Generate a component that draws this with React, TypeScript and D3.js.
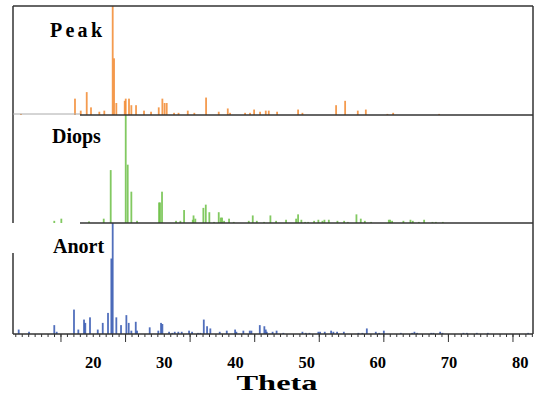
import React from 'react';
import * as d3 from 'd3';

// peak positions (theta) and relative intensities (% of strongest line)
const peakTheta = [9.85, 17.44, 18.25, 19.09, 19.69, 20.86, 21.56, 22.74, 22.93, 23.25, 24.43, 24.57, 25.03, 25.36, 26.02, 27.14, 28.13, 29.21, 29.72, 30.03, 30.33, 31.36, 31.99, 33.29, 34.21, 35.86, 37.64, 38.91, 39.23, 41.34, 42.04, 42.61, 43.45, 44.25, 44.67, 45.84, 48.79, 49.4, 54.13, 55.4, 57.18, 58.31, 61.34, 62.15, 68.61];
const peakInt = [1, 15, 4, 21, 7, 3, 4, 100, 52, 11, 13, 15, 15, 9, 9, 4, 3, 7, 15, 11, 11, 2, 2, 4, 2, 16, 3, 6, 2, 2, 2, 5, 3, 4, 4, 3, 5, 2, 9, 13, 4, 5, 1, 2, 1];

const diopsTheta = [14.53, 15.52, 19.41, 21.48, 22.46, 24.57, 24.85, 25.36, 26.16, 29.25, 29.39, 29.67, 31.64, 32.25, 32.77, 33.99, 34.1, 34.35, 35.48, 35.82, 36.32, 36.98, 37.64, 37.93, 38.11, 38.39, 39.09, 39.75, 41.86, 42.42, 42.99, 44.01, 44.9, 45.7, 47.1, 48.51, 48.79, 49.25, 49.78, 50.2, 51.04, 51.64, 52.21, 52.49, 53.11, 54.32, 55.26, 55.78, 56.99, 57.6, 58.17, 59.05, 61.54, 61.72, 62.0, 63.59, 64.58, 64.91, 65.76, 66.5, 67.67, 68.15, 69.13];
const diopsInt = [2, 4, 1.5, 4, 49, 100, 54, 29, 2, 19, 19, 29, 2, 2, 12, 3, 7, 4, 14, 17, 10, 1, 10, 5, 5, 2, 4, 1, 2, 7, 2, 1, 7, 2, 3, 4, 8, 3, 1, 1, 2, 3, 2, 3, 3, 2, 2, 1, 8, 4, 2, 1, 3, 3, 2, 2, 3, 2, 1, 3, 1, 1, 1];

const anortTheta = [9.53, 10.98, 14.53, 14.87, 17.3, 17.91, 18.71, 18.89, 19.55, 20.64, 21.34, 22.08, 22.55, 22.74, 23.25, 23.91, 24.66, 24.99, 25.36, 25.98, 26.16, 27.94, 29.15, 29.53, 29.72, 30.66, 31.12, 31.46, 31.96, 32.44, 33.47, 33.89, 34.73, 35.06, 35.54, 36.0, 36.46, 37.78, 38.77, 39.94, 40.12, 41.1, 42.0, 42.23, 43.41, 44.05, 44.25, 44.39, 45.21, 45.77, 46.72, 49.4, 49.87, 50.38, 51.64, 51.88, 52.54, 53.43, 53.75, 54.27, 55.22, 57.27, 57.83, 58.45, 59.71, 60.18, 60.84, 63.23, 64.82, 65.14, 65.52, 67.49, 67.81, 68.75, 69.08, 72.03, 72.51, 73.91, 75.46, 81.12];
const anortInt = [4, 2, 8, 2, 22, 4, 13, 10, 15, 4, 10, 19, 68, 100, 15, 8, 17, 10, 3, 11, 3, 6, 3, 10, 9, 2, 1, 2, 2, 2, 3, 2, 1, 1, 13, 7, 5, 2, 3, 4, 2, 3, 3, 3, 8, 7, 4, 2, 2, 3, 1, 2, 1, 1, 2, 2, 2, 3, 2, 2, 2, 1, 1, 5, 2, 1, 3, 1, 1, 2, 1, 1, 1, 2, 1, 1, 1, 1, 1, 1];

const xLabels = [20, 30, 40, 50, 60, 70, 80];
const panelNames = ['Peak', 'Diops', 'Anort'];
const panelColors = ['#f28a30', '#6cbf45', '#3356b0'];

const W = 537, H = 394;
const L = 13, R = 533, T = 6, B = 334;
const LINE_X = 80; // where the inner panel lines start

const panelTops = [6, 115, 223];
const panelBottoms = [115, 223, 334];

const serif = '"Liberation Serif", "Times New Roman", serif';

export default function App() {
  const x = d3.scaleLinear().domain([8.73, 81.8]).range([L, R]);
  // tick marks of the frame live on their own scale
  const tx = d3.scaleLinear().domain([2.57, 83.1]).range([L, R]);
  const minor = d3.range(3, 84, 1);
  const major = d3.range(10, 81, 10);

  const series = [
    { theta: peakTheta, inten: peakInt },
    { theta: diopsTheta, inten: diopsInt },
    { theta: anortTheta, inten: anortInt },
  ];

  return (
    <svg width={W} height={H} style={{ position: 'absolute', left: 0, top: 0, background: '#fff' }}>
      {series.map((s, i) => {
        const y = d3.scaleLinear().domain([0, 100]).range([panelBottoms[i], panelTops[i]]);
        return (
          <g key={i}>
            {s.theta.map((t, j) => (
              <rect key={j} x={x(t) - 0.9} width={1.8} y={y(s.inten[j])}
                height={Math.max(0.8, y(0) - y(s.inten[j]))}
                fill={panelColors[i]} opacity={0.85} />
            ))}
          </g>
        );
      })}

      {/* frame */}
      <g stroke="#333" strokeWidth={1.5} fill="none">
        <line x1={L} x2={R} y1={T} y2={T} />
        <line x1={R} x2={R} y1={T} y2={B} />
        <line x1={L} x2={R} y1={B} y2={B} />
        <line x1={L} x2={L} y1={T} y2={223} />
        <line x1={L} x2={L} y1={253} y2={B} />
        <line x1={LINE_X} x2={R} y1={115} y2={115} />
        <line x1={LINE_X} x2={R} y1={223} y2={223} />
      </g>
      <line x1={L} x2={LINE_X} y1={114} y2={114} stroke="#aaa" strokeWidth={1} />

      {/* ticks */}
      <g stroke="#333" strokeWidth={1}>
        {minor.map(v => <line key={'m' + v} x1={tx(v)} x2={tx(v)} y1={B} y2={B + 3} />)}
        {major.map(v => <line key={'M' + v} x1={tx(v)} x2={tx(v)} y1={B} y2={B + 8} />)}
      </g>

      {xLabels.map(v => (
        <text key={v} x={x(v)} y={368} textAnchor="middle" fontFamily={serif}
          fontWeight="bold" fontSize={16.5}>{v}</text>
      ))}
      <text x={277} y={390} textAnchor="middle" fontFamily={serif} fontWeight="bold"
        fontSize={22} textLength={81} lengthAdjust="spacingAndGlyphs">Theta</text>

      <text x={50} y={37} fontFamily={serif} fontWeight="bold" fontSize={20}
        textLength={52} lengthAdjust="spacing">{panelNames[0]}</text>
      <text x={52} y={143} fontFamily={serif} fontWeight="bold" fontSize={20}>{panelNames[1]}</text>
      <text x={53} y={253} fontFamily={serif} fontWeight="bold" fontSize={20}>{panelNames[2]}</text>
    </svg>
  );
}
